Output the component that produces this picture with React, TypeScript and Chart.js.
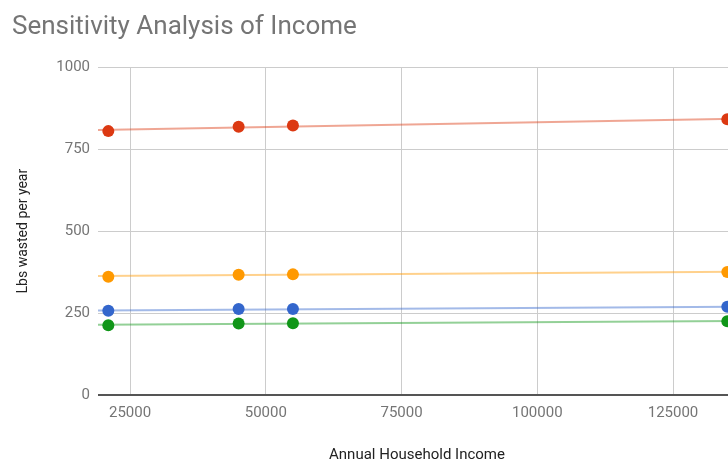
import React, { useEffect, useRef } from 'react';
import { Chart, registerables } from 'chart.js';

Chart.register(...registerables);

// ---- data ----
const incomes = [21000, 45000, 55000, 135000];
const seriesRed = [805, 818, 822, 841];
const seriesOrange = [361, 367, 368, 375];
const seriesBlue = [257, 262, 262, 269];
const seriesGreen = [213, 218, 219, 225];
const xTickValues = [25000, 50000, 75000, 100000, 125000];
const yTickValues = [0, 250, 500, 750, 1000];
const xAxisMin = 19100;
const xAxisMax = 136600;

const titleText = 'Sensitivity Analysis of Income';
const xTitle = 'Annual Household Income';
const yTitle = 'Lbs wasted per year';

const seriesList = [
  { values: seriesRed, color: '#dc3912', trend: 'rgba(220,57,18,0.45)' },
  { values: seriesOrange, color: '#ff9900', trend: 'rgba(255,153,0,0.45)' },
  { values: seriesBlue, color: '#3366cc', trend: 'rgba(51,102,204,0.45)' },
  { values: seriesGreen, color: '#109618', trend: 'rgba(16,150,24,0.45)' },
];

// linear least-squares trendline (as the original chart's trendlines)
function trend(xs: number[], ys: number[]) {
  const n = xs.length;
  const mx = xs.reduce((a, b) => a + b, 0) / n;
  const my = ys.reduce((a, b) => a + b, 0) / n;
  let num = 0;
  let den = 0;
  for (let i = 0; i < n; i++) {
    num += (xs[i] - mx) * (ys[i] - my);
    den += (xs[i] - mx) * (xs[i] - mx);
  }
  const slope = den === 0 ? 0 : num / den;
  const icpt = my - slope * mx;
  return [
    { x: xAxisMin, y: icpt + slope * xAxisMin },
    { x: xAxisMax, y: icpt + slope * xAxisMax },
  ];
}

const FONT = 'Roboto, "Noto Sans", Arial, sans-serif';

export default function App() {
  const ref = useRef<HTMLCanvasElement | null>(null);

  useEffect(() => {
    if (!ref.current) return;
    const pointSets = seriesList.map((s) => ({
      data: incomes.map((x, i) => ({ x, y: s.values[i] })),
      backgroundColor: s.color,
      borderColor: s.color,
      borderWidth: 0,
      pointRadius: 6,
      pointHoverRadius: 6,
      showLine: false,
      order: 0,
    }));
    const trendSets = seriesList.map((s) => ({
      data: trend(incomes, s.values),
      borderColor: s.trend,
      backgroundColor: s.trend,
      borderWidth: 2,
      pointRadius: 0,
      showLine: true,
      order: 1,
    }));

    const chart = new Chart(ref.current, {
      type: 'scatter',
      data: { datasets: [...pointSets, ...trendSets] as any },
      options: {
        responsive: false,
        animation: false,
        devicePixelRatio: 1,
        layout: { padding: { left: 12, right: 14, top: 0, bottom: 0 } },
        plugins: {
          legend: { display: false },
          tooltip: { enabled: false },
          title: {
            display: true,
            text: titleText,
            align: 'start',
            color: '#757575',
            font: { family: FONT, size: 26, weight: 'normal' },
            padding: { top: 12, bottom: 24 },
          },
        },
        scales: {
          x: {
            type: 'linear',
            min: xAxisMin,
            max: xAxisMax,
            afterBuildTicks: (scale: any) => {
              scale.ticks = xTickValues.map((v) => ({ value: v }));
            },
            afterFit: (scale: any) => {
              scale.height = 69;
            },
            grid: { color: '#cccccc', lineWidth: 1, drawTicks: false },
            border: { display: false },
            ticks: {
              padding: 9,
              color: '#757575',
              font: { family: FONT, size: 15 },
              callback: (v: any) => String(v),
            },
            title: {
              display: true,
              text: xTitle,
              color: '#222222',
              font: { family: FONT, size: 15 },
              padding: { top: 0, bottom: 0 },
            },
          },
          y: {
            type: 'linear',
            min: 0,
            max: 1000,
            afterBuildTicks: (scale: any) => {
              scale.ticks = yTickValues.map((v) => ({ value: v }));
            },
            afterFit: (scale: any) => {
              scale.width = 86;
            },
            grid: {
              color: (ctx: any) => (ctx.tick && ctx.tick.value === 0 ? '#555555' : '#cccccc'),
              lineWidth: (ctx: any) => (ctx.tick && ctx.tick.value === 0 ? 2 : 1),
              drawTicks: false,
            },
            border: { display: false },
            ticks: {
              padding: 8,
              color: '#757575',
              font: { family: FONT, size: 15 },
              callback: (v: any) => String(v),
            },
            title: {
              display: true,
              text: yTitle,
              color: '#222222',
              font: { family: FONT, size: 14 },
              padding: { top: 3, bottom: 3 },
            },
          },
        },
      } as any,
    });
    return () => chart.destroy();
  }, []);

  return (
    <div
      style={{
        position: 'fixed',
        left: 0,
        top: 0,
        width: 728,
        height: 464,
        overflow: 'hidden',
        background: '#ffffff',
      }}
    >
      <canvas ref={ref} width={750} height={464} style={{ display: 'block' }} />
    </div>
  );
}
